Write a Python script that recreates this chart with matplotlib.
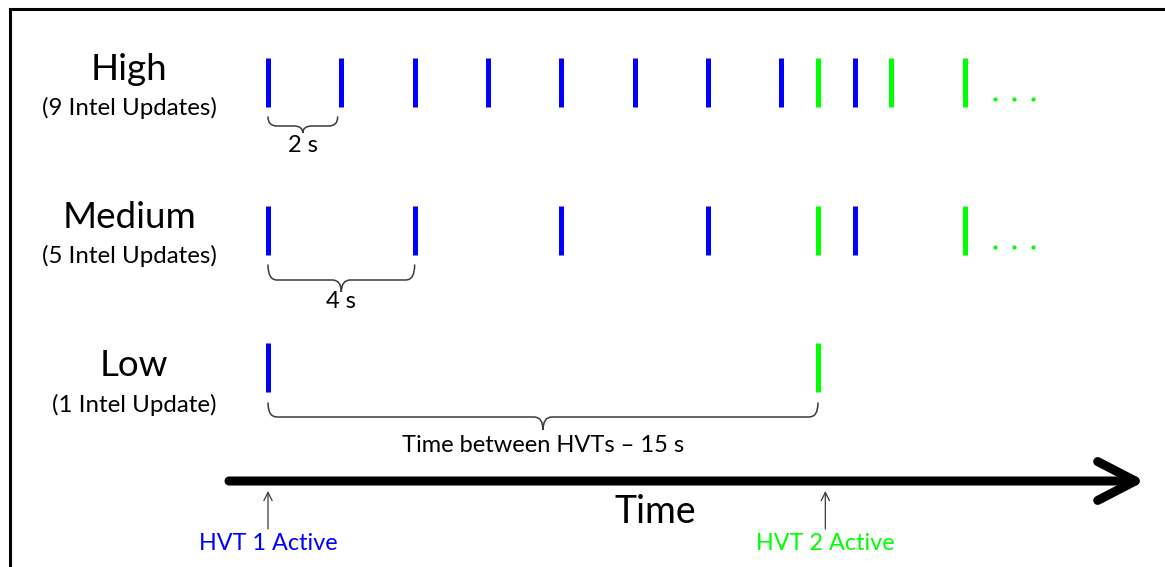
import matplotlib
matplotlib.use("agg")
import matplotlib.pyplot as plt
from matplotlib.path import Path
from matplotlib.patches import PathPatch
from matplotlib.lines import Line2D

# --- data (seconds) ---
rows = ["High", "Medium", "Low"]
row_notes = ["(9 Intel Updates)", "(5 Intel Updates)", "(1 Intel Update)"]
hvt1_updates = [
    [0, 2, 4, 6, 8, 10, 12, 14, 16],
    [0, 4, 8, 12, 16],
    [0],
]
hvt2_updates = [
    [15, 17, 19],
    [15, 19],
    [15],
]
more_to_come = [True, True, False]
brace_spans = [(0, 1.9), (0, 4), (0, 15)]
brace_labels = ["2 s", "4 s", "Time between HVTs \u2013 15 s"]
hvt_active = [0, 15.2]
hvt_labels = ["HVT 1 Active", "HVT 2 Active"]

BLUE = "#0000ff"
GREEN = "#00ff00"
GRAY = "#3a3a3a"
FONT = "Lato"

PX = 550 / 15.0          # pixels per second
X0 = 268                 # pixel column of t = 0
W, H = 1165, 567

fig = plt.figure(figsize=(W / 100, H / 100), dpi=100)
ax = fig.add_axes([0, 0, 1, 1])
ax.set_xlim(-X0 / PX, (W - X0) / PX)
ax.set_ylim(H, 0)
ax.axis("off")

row_y = [82.5, 230.5, 367.5]          # centre of each row of marks
title_x = [-139, -139, -134]           # px offset of row titles from t=0
title_y = [70, 217, 365]
note_y = [108, 256, 405]
brace_geo = [(117, 126, 133), (265, 280, 292), (403, 417, 430)]
brace_text_y = [146, 302, 445]
half = 24.5


def brace(ax, t0, t1, ytop, ymid, ybot, r=9 / PX):
    tc = (t0 + t1) / 2
    verts = [(t0, ytop), (t0, ymid), (t0 + r, ymid),
             (tc - r, ymid), (tc, ymid), (tc, ybot),
             (tc, ymid), (tc + r, ymid),
             (t1 - r, ymid), (t1, ymid), (t1, ytop)]
    codes = [Path.MOVETO, Path.CURVE3, Path.CURVE3,
             Path.LINETO, Path.CURVE3, Path.CURVE3,
             Path.CURVE3, Path.CURVE3,
             Path.LINETO, Path.CURVE3, Path.CURVE3]
    ax.add_patch(PathPatch(Path(verts, codes), fill=False, lw=1.1,
                           edgecolor=GRAY, capstyle="round"))
    return tc


for i, name in enumerate(rows):
    x_title = title_x[i] / PX
    ax.text(x_title, title_y[i], name, ha="center", va="center",
            fontsize=26.5, family=FONT, color="black")
    ax.text(x_title, note_y[i], row_notes[i], ha="center", va="center",
            fontsize=17.3, family=FONT, color="black")
    y = row_y[i]
    ax.vlines(hvt1_updates[i], y - half, y + half, colors=BLUE, lw=3.6)
    ax.vlines(hvt2_updates[i], y - half, y + half, colors=GREEN, lw=3.6)
    if more_to_come[i]:
        last = hvt2_updates[i][-1]
        dots = [last + 0.83 + k * 0.52 for k in range(3)]
        ax.scatter(dots, [y + 16] * 3, s=9, color=GREEN, zorder=3,
                   linewidths=0)
    t0, t1 = brace_spans[i]
    tc = brace(ax, t0, t1, *brace_geo[i])
    ax.text(tc, brace_text_y[i], brace_labels[i], ha="center", va="center",
            fontsize=17, family=FONT, color="black")

# time axis
ax.annotate("", xy=((1145 - X0) / PX, 481), xytext=((229 - X0) / PX, 481),
            arrowprops=dict(arrowstyle="->,head_length=27,head_width=14",
                            mutation_scale=1, lw=6.5, color="black",
                            shrinkA=0, shrinkB=0, capstyle="round",
                            joinstyle="round"))
ax.text((655 - X0) / PX, 512, "Time", ha="center", va="center",
        fontsize=27, family=FONT, color="black")

for t, lab, c in zip(hvt_active, hvt_labels, [BLUE, GREEN]):
    ax.annotate("", xy=(t, 491), xytext=(t, 529),
                arrowprops=dict(arrowstyle="->,head_length=0.6,head_width=0.3",
                                lw=0.9, color=GRAY, shrinkA=0, shrinkB=0))
    ax.text(t, 544, lab, ha="center", va="center", fontsize=16.8,
            family=FONT, color=c)

# frame around the slide (top and left edges visible)
fig.add_artist(Line2D([10 / W, 10 / W], [0, 1 - 9 / H], transform=fig.transFigure,
                      color="black", lw=2.2))
fig.add_artist(Line2D([10 / W, 1], [1 - 9 / H, 1 - 9 / H], transform=fig.transFigure,
                      color="black", lw=2.2))

fig.savefig("out.png", dpi=100)
